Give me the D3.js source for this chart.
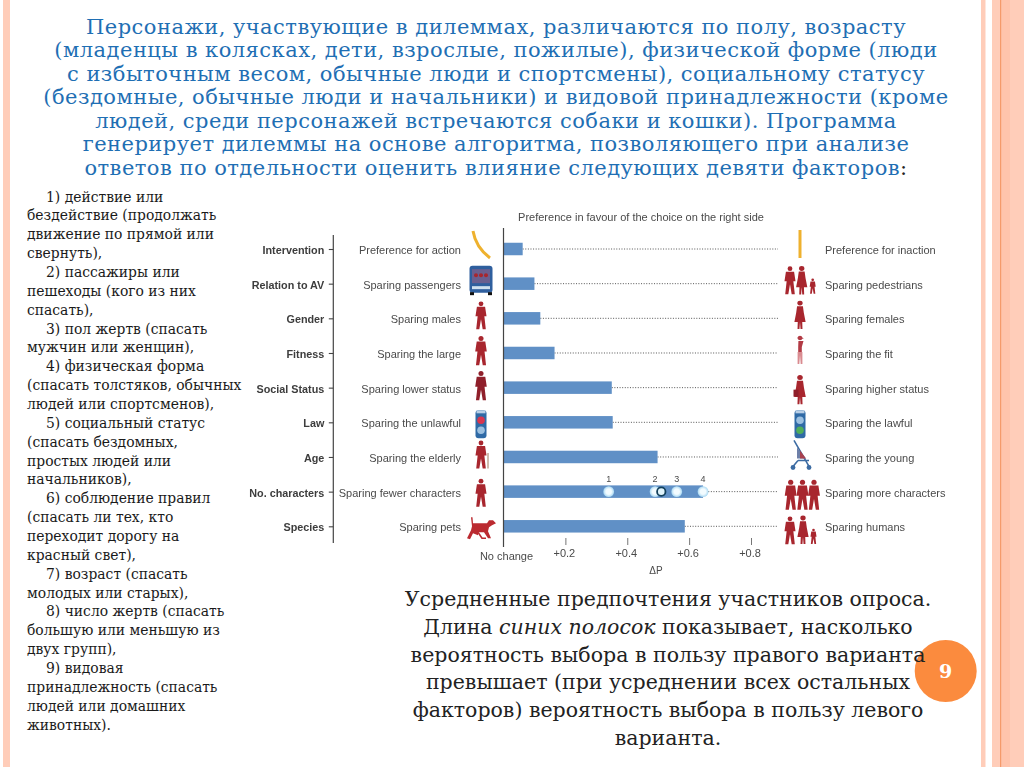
<!DOCTYPE html>
<html><head><meta charset="utf-8">
<script src="https://cdnjs.cloudflare.com/ajax/libs/d3/7.8.5/d3.min.js"></script>
<style>html,body{margin:0;padding:0;background:#fff;overflow:hidden}svg{display:block}</style></head><body>
<script>
const factors=["Intervention","Relation to AV","Gender","Fitness","Social Status","Law","Age","No. characters","Species"];
const leftLabels=["Preference for action","Sparing passengers","Sparing males","Sparing the large","Sparing lower status","Sparing the unlawful","Sparing the elderly","Sparing fewer characters","Sparing pets"];
const rightLabels=["Preference for inaction","Sparing pedestrians","Sparing females","Sparing the fit","Sparing higher status","Sparing the lawful","Sparing the young","Sparing more characters","Sparing humans"];
const deltaP=[0.062,0.10,0.119,0.165,0.35,0.353,0.498,0.645,0.586];
const charCounts=["1","2","3","4"];
const charValues=[0.34,0.49,0.56,0.645];
const charOverall=0.51;
const tickValues=[0.2,0.4,0.6,0.8];
const tickLabels=["+0.2","+0.4","+0.6","+0.8"];
const headerLines=["Персонажи, участвующие в дилеммах, различаются по полу, возрасту","(младенцы в колясках, дети, взрослые, пожилые), физической форме (люди","с избыточным весом, обычные люди и спортсмены), социальному статусу","(бездомные, обычные люди и начальники) и видовой принадлежности (кроме","людей, среди персонажей встречаются собаки и кошки). Программа","генерирует дилеммы на основе алгоритма, позволяющего при анализе","ответов по отдельности оценить влияние следующих девяти факторов"];
const listLines=["    1) действие или","бездействие (продолжать","движение по прямой или","свернуть),","    2) пассажиры или","пешеходы (кого из них","спасать),","    3) пол жертв (спасать","мужчин или женщин),","    4) физическая форма","(спасать толстяков, обычных","людей или спортсменов),","    5) социальный статус","(спасать бездомных,","простых людей или","начальников),","    6) соблюдение правил","(спасать ли тех, кто","переходит дорогу на","красный свет),","    7) возраст (спасать","молодых или старых),","    8) число жертв (спасать","большую или меньшую из","двух групп),","    9) видовая","принадлежность (спасать","людей или домашних","животных)."];
const captionLines=[["Усредненные предпочтения участников опроса."],["Длина ","синих полосок"," показывает, насколько"],["вероятность выбора в пользу правого варианта"],["превышает (при усреднении всех остальных"],["факторов) вероятность выбора в пользу левого"],["варианта."]];

const W=1024,H=767;
const svg=d3.select("body").append("svg").attr("width",W).attr("height",H).attr("viewBox",`0 0 ${W} ${H}`);
const SERIF="'DejaVu Serif',serif", SANS="'Liberation Sans',Arial,sans-serif";
const pale="#ffcdb9";

// slide stripes
const deco=svg.append("g");
[[3,7],[981,4.5],[992,32]].forEach(([x,w])=>deco.append("rect").attr("x",x).attr("y",0).attr("width",w).attr("height",H).attr("fill",pale));
deco.append("rect").attr("x",1001).attr("y",0).attr("width",9).attr("height",H).attr("fill","#ffc4ac");
deco.append("rect").attr("x",1000).attr("y",0).attr("width",1.2).attr("height",H).attr("fill","#f59a6a");

// header
const hy=d3.scaleLinear().domain([0,6]).range([33.5,175]);
const ht=svg.append("g").attr("font-family",SERIF).attr("font-size",21).attr("letter-spacing",.47).attr("fill","#1f6fb4").attr("text-anchor","middle");
headerLines.forEach((l,i)=>{const t=ht.append("text").attr("x",496).attr("y",hy(i)).text(l);
 if(i===6)t.append("tspan").attr("fill","#222").text(":");});

// list
const ly=d3.scaleLinear().domain([0,listLines.length-1]).range([201.5,729.5]);
const lt=svg.append("g").attr("font-family",SERIF).attr("font-size",13.9).attr("fill","#1a1a1a");
listLines.forEach((l,i)=>{const ind=l.startsWith("    ");lt.append("text").attr("x",ind?46:27).attr("y",ly(i)).text(l.trim());});

// chart art (slightly soft, as in the reference image)
const art=svg.append("g").style("filter","blur(0.4px)");
const x=d3.scaleLinear().domain([0,0.8]).range([503.5,751]);
const y=d3.scalePoint().domain(factors).range([249,526.3]);
const barH=12.5, blue="#6090c6", grey="#444", lab="#4a4a4a";
const c=art.append("g").attr("font-family",SANS).attr("font-size",11).attr("fill",lab);
c.append("text").attr("x",641).attr("y",221).attr("text-anchor","middle").text("Preference in favour of the choice on the right side");
// left axis
const ay=d3.axisLeft(y).tickSize(4.5).tickPadding(4.5);
const ga=c.append("g").attr("transform","translate(333.3,0)").call(ay);
ga.select(".domain").attr("stroke",grey).attr("stroke-width",1.2).attr("d","M0,235V543");
ga.selectAll("line").attr("stroke",grey).attr("stroke-width",1.1);
ga.selectAll("text").attr("font-family",SANS).attr("font-size",10.8).attr("font-weight","bold").attr("fill","#3d3d3d").attr("dy","0.42em");
// dotted leaders
c.selectAll(".lead").data(factors).join("line").attr("x1",(d,i)=>x(deltaP[i])).attr("x2",778).attr("y1",d=>y(d)).attr("y2",d=>y(d))
 .attr("stroke","#555").attr("stroke-width",1).attr("stroke-dasharray","1 1.6");
// bars
c.selectAll(".bar").data(factors).join("rect").attr("x",x(0)).attr("y",d=>y(d)-barH/2).attr("width",(d,i)=>x(deltaP[i])-x(0)).attr("height",barH).attr("fill",blue);
// zero line
c.append("line").attr("x1",x(0)).attr("x2",x(0)).attr("y1",228).attr("y2",547).attr("stroke",grey).attr("stroke-width",1.2);
// labels
c.selectAll(".ll").data(leftLabels).join("text").attr("x",461).attr("y",(d,i)=>y(factors[i])+5).attr("text-anchor","end").text(d=>d);
c.selectAll(".rl").data(rightLabels).join("text").attr("x",825).attr("y",(d,i)=>y(factors[i])+5).text(d=>d);
// x axis
const ax=d3.axisBottom(x).tickValues(tickValues).tickSize(7).tickPadding(4).tickFormat((d,i)=>tickLabels[i]);
const gx=c.append("g").attr("transform","translate(0,538)").call(ax);
gx.select(".domain").remove();
gx.selectAll("line").attr("stroke","#666").attr("stroke-width",.9);
gx.selectAll("text").attr("font-family",SANS).attr("font-size",11).attr("fill",lab).attr("x",-1.5);
c.append("text").attr("x",506.5).attr("y",560).attr("text-anchor","middle").text("No change");
c.append("text").attr("x",656).attr("y",574).attr("text-anchor","middle").attr("font-size",10).text("ΔP");
// character count dots
const rowY=y("No. characters");
const defs=svg.append("defs");
const rg=defs.append("radialGradient").attr("id","glow");
rg.append("stop").attr("offset","50%").attr("stop-color","#f2fbff");
rg.append("stop").attr("offset","100%").attr("stop-color","#a8d8f2");
c.selectAll(".dot").data(charValues).join("circle").attr("cx",d=>x(d)).attr("cy",rowY).attr("r",5.4).attr("fill","url(#glow)");
c.append("circle").attr("cx",x(charOverall)).attr("cy",rowY).attr("r",4.2).attr("fill","#dff3fb").attr("stroke","#12405c").attr("stroke-width",1.8);
c.selectAll(".dl").data(charCounts).join("text").attr("x",(d,i)=>x(charValues[i])).attr("y",rowY-9.5).attr("text-anchor","middle").attr("font-size",9).text(d=>d);

// icons
const red="#a8262e";
function person(cx,cy,s,col){
  const g=art.append("g").attr("transform",`translate(${cx},${cy}) scale(${s*1.2},${s})`).attr("fill",col||red);
  g.append("ellipse").attr("cx",0).attr("cy",-11.5).attr("rx",2).attr("ry",2.4);
  g.append("path").attr("d","M-3.4,-8.5 L3.4,-8.5 L4.6,1 L2.8,1 L4,14 L1.4,14 L0,4 L-1.4,14 L-4,14 L-2.8,1 L-4.6,1 Z");
  return g;
}
function dress(cx,cy,s,col){
  const g=art.append("g").attr("transform",`translate(${cx},${cy}) scale(${s*1.1},${s})`).attr("fill",col||red);
  g.append("circle").attr("cx",0).attr("cy",-11.5).attr("r",2.4);
  g.append("path").attr("d","M-2.6,-8.5 L2.6,-8.5 L3.4,-2 L5,7 L2,7 L2.2,14 L.5,14 L0,7 L-.5,14 L-2.2,14 L-2,7 L-5,7 L-3.4,-2 Z");
}
const yy=i=>y(factors[i]);
const cxL=481,cxR=800;
art.append("path").attr("d",`M473,231 C475,243 482,252 490,258`).attr("fill","none").attr("stroke","#eeb12e").attr("stroke-width",3);
art.append("line").attr("x1",cxR).attr("x2",cxR).attr("y1",230).attr("y2",258).attr("stroke","#eeb12e").attr("stroke-width",3);
// bus
{const g=art.append("g").attr("transform",`translate(${cxL},${yy(1)-3.5})`);
 g.append("rect").attr("x",-11.5).attr("y",-14.5).attr("width",23).attr("height",27).attr("rx",3).attr("fill","#2f5f9e");
 g.append("rect").attr("x",-9).attr("y",-11).attr("width",18).attr("height",14).attr("fill","#6a5f8f");
 [-5,0,5].forEach(d=>g.append("circle").attr("cx",d).attr("cy",-5).attr("r",2).attr("fill",red));
 g.append("rect").attr("x",-9).attr("y",6).attr("width",18).attr("height",3).attr("fill","#cfe0ef");
 [-9,9].forEach(d=>g.append("rect").attr("x",d-2).attr("y",12).attr("width",4).attr("height",3).attr("fill","#111"));
}
person(cxL,yy(2)-3,1,red);
person(cxL,yy(3)-2.5,1.05,red);
person(cxL,yy(4)-2,1.05,"#8f1f2a");
function light(cx,cy,top,bot){const g=art.append("g").attr("transform",`translate(${cx},${cy})`);
 g.append("rect").attr("x",-5.5).attr("y",-14).attr("width",11).attr("height",28).attr("rx",3).attr("fill","#2f6aa6");
 g.append("rect").attr("x",-4.5).attr("y",-14).attr("width",9).attr("height",3).attr("fill","#b9cfe6");
 g.append("circle").attr("cy",-4).attr("r",3.8).attr("fill",top);
 g.append("circle").attr("cy",6).attr("r",3.8).attr("fill",bot);}
light(cxL,yy(5)+2,"#d9354f","#9cc0e0");
light(cxR,yy(5)+2,"#9cc0e0","#4fae5a");
person(cxL,yy(6)-2.5,1,"#a8262e");
art.append("line").attr("x1",488).attr("x2",488).attr("y1",yy(6)-4).attr("y2",yy(6)+11.5).attr("stroke","#b9a08c").attr("stroke-width",1.4);
person(cxL,yy(7)+1,1,red);
// dog
{const g=art.append("g").attr("transform",`translate(${cxL},${yy(8)+3})`).attr("fill","#bb2a30");
 g.append("path").attr("d","M-8,-6 L6,-6 L8,-9 L12,-9 L15,-6 L11,-4 L8,-2 L7,2 L10,9 L7,9 L3,3 L-3,3 L-3,6 L-8,4 L-11,10 L-14,9 L-10,1 L-9,-3 L-10,-12 L-8.5,-12 Z");
 g.append("path").attr("d","M-3,3 L1,9 L5,9").attr("fill","none").attr("stroke","#bb2a30").attr("stroke-width",1.6);
}
// right groups
person(790,yy(1)-3.5,1,red);dress(801.7,yy(1)-3.5,1.02,red);person(812.7,yy(1)+2.5,.55,red);
dress(cxR,yy(2)-3.5,1.02,red);
{const g=art.append("g").attr("transform",`translate(${cxR},${yy(3)-3})`).attr("fill","#b23a44");
 g.append("circle").attr("cy",-12).attr("r",2.2);
 g.append("path").attr("d","M-3,-12 Q0,-15.5 3,-12 L4,-12 L0,-10 Z");
 g.append("path").attr("d","M-1.6,-9 L3.5,-9 L1.8,-3 L1.8,2 L-1.8,2 L-1.8,-3 Z");
 g.append("path").attr("d","M-2.4,2 L2.4,2 L2.4,14 L.7,14 L0,5 L-.7,14 L-2.4,14 Z").attr("fill","#d98b90");
}
{dress(cxR,yy(4)+2,1.05,"#a8262e");art.append("rect").attr("x",cxR-6.5).attr("y",yy(4)+2).attr("width",5).attr("height",7).attr("fill","#8f1f2a");}
// stroller
{const g=art.append("g").attr("transform",`translate(${cxR},${yy(6)-1.5})`).attr("fill","none").attr("stroke","#3d6ca3").attr("stroke-width",1.6);
 g.append("path").attr("d","M-6,-15 L9,11 M-2,5 L-7,11 M-2,5 L9,5");
 g.append("path").attr("d","M-3,-8 L6,3 L-3,3 Z").attr("fill","#6e7fa8").attr("stroke","none");
 g.append("path").attr("d","M0,-5 L6,3 L0,3 Z").attr("fill","#a8404f").attr("stroke","none");
 [-7,9].forEach(d=>g.append("circle").attr("cx",d).attr("cy",12).attr("r",2.4).attr("fill","#3d6ca3").attr("stroke","none"));
}
person(790.7,yy(7)+3,1.08,red);person(802.5,yy(7)+3,1.08,red);person(814,yy(7)+3,1.08,red);
person(790,yy(8)+4,1,red);dress(803,yy(8)+3.5,1.02,red);person(813.5,yy(8)+10,.55,red);

// page badge (the caption text runs over it)
svg.append("circle").attr("cx",945.7).attr("cy",671).attr("r",31).attr("fill","#fb8b3e");
svg.append("text").attr("x",945.7).attr("y",678).attr("text-anchor","middle").attr("font-family",SERIF).attr("font-weight","bold").attr("font-size",19).attr("fill","#fff").text("9");

// caption
const cy0=d3.scaleLinear().domain([0,5]).range([606,745]);
const ct=svg.append("g").attr("font-family",SERIF).attr("font-size",20.5).attr("fill","#222").attr("text-anchor","middle");
captionLines.forEach((parts,i)=>{const t=ct.append("text").attr("x",668).attr("y",cy0(i));
  parts.forEach((p,j)=>t.append("tspan").attr("font-style",parts.length>1&&j===1?"italic":"normal").text(p));});
</script></body></html>
